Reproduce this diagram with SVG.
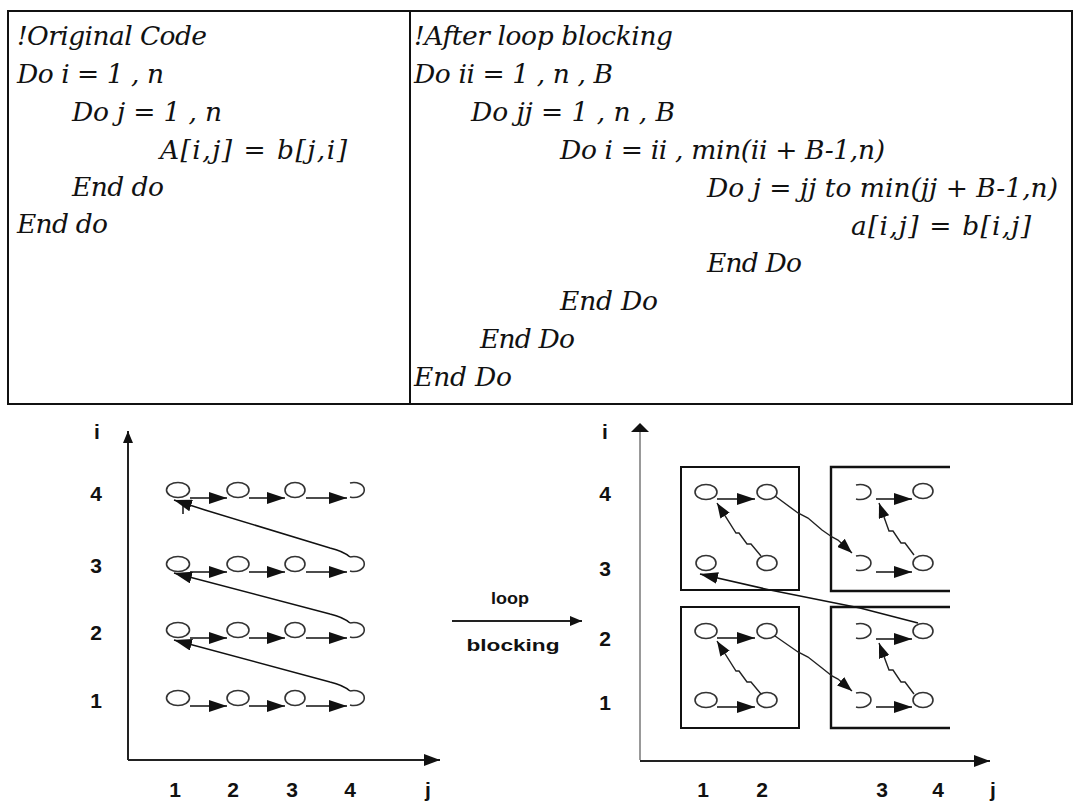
<svg xmlns="http://www.w3.org/2000/svg" width="1075" height="802" viewBox="0 0 1075 802">
  <style>
    .code { font-family: "DejaVu Serif", "Liberation Serif", serif; font-style: italic; font-size: 26.5px; fill: #111; }
    .lbl { font-family: "Liberation Sans", Arial, sans-serif; font-weight: bold; font-size: 21px; fill: #111; text-anchor: middle; }
    .cap { font-family: "Liberation Sans", Arial, sans-serif; font-weight: bold; font-size: 17px; fill: #111; text-anchor: middle; }
    .frame { fill: none; stroke: #111; stroke-width: 2; }
    .node ellipse, .node path { fill: #fff; stroke: #333; stroke-width: 1.6; }
    .node path { fill: none; }
    .axis { fill: none; stroke: #222; stroke-width: 2; }
    .axis-thin { fill: none; stroke: #555; stroke-width: 1.2; }
    .edge { fill: none; stroke: #111; stroke-width: 1.5; }
    .step { marker-end: url(#head); }
    .wave { fill: none; stroke: #222; stroke-width: 1.4; marker-end: url(#headS); }
    .block { fill: none; stroke: #111; stroke-width: 2; }
  </style>
  <defs>
    <marker id="head" markerUnits="userSpaceOnUse" markerWidth="18" markerHeight="12" refX="18" refY="6" orient="auto">
      <path d="M0,0 L18,6 L0,12 z" fill="#111"/>
    </marker>
    <marker id="headS" markerUnits="userSpaceOnUse" markerWidth="15" markerHeight="11" refX="15" refY="5.5" orient="auto">
      <path d="M0,0 L15,5.5 L0,11 z" fill="#111"/>
    </marker>
    <marker id="axisHead" markerUnits="userSpaceOnUse" markerWidth="16" markerHeight="12" refX="16" refY="6" orient="auto">
      <path d="M0,0 L16,6 L0,12 z" fill="#111"/>
    </marker>
    <marker id="axisHeadSmall" markerUnits="userSpaceOnUse" markerWidth="12" markerHeight="10" refX="12" refY="5" orient="auto">
      <path d="M0,0 L12,5 L0,10 z" fill="#111"/>
    </marker>
  </defs>

  <!-- code table -->
  <g id="code-table">
    <rect class="frame" x="8" y="11" width="1064" height="393"/>
    <line class="frame" x1="410" y1="11" x2="410" y2="404"/>
  </g>

  <g id="code-original">
    <text class="code" x="17" y="45" textLength="190">!Original Code</text>
    <text class="code" x="17" y="83" textLength="147">Do i = 1 , n</text>
    <text class="code" x="72" y="121" textLength="150">Do j = 1 , n</text>
    <text class="code" x="160" y="159" textLength="187">A[i,j] = b[j,i]</text>
    <text class="code" x="72" y="196" textLength="92">End do</text>
    <text class="code" x="17" y="233" textLength="91">End do</text>
  </g>

  <g id="code-blocked">
    <text class="code" x="414" y="45" textLength="259">!After loop blocking</text>
    <text class="code" x="414" y="83" textLength="199">Do ii = 1 , n , B</text>
    <text class="code" x="471" y="121" textLength="204">Do jj = 1 , n , B</text>
    <text class="code" x="560" y="159" textLength="325">Do i = ii , min(ii + B-1,n)</text>
    <text class="code" x="707" y="197" textLength="351">Do j = jj to min(jj + B-1,n)</text>
    <text class="code" x="851" y="235" textLength="180">a[i,j] = b[i,j]</text>
    <text class="code" x="707" y="272" textLength="95">End Do</text>
    <text class="code" x="560" y="310" textLength="98">End Do</text>
    <text class="code" x="480" y="348" textLength="95">End Do</text>
    <text class="code" x="414" y="386" textLength="98">End Do</text>
  </g>

  <!-- original iteration order: axes and labels -->
  <g id="orig-axes">
    <path class="axis" d="M128,760 V431" marker-end="url(#axisHeadSmall)"/>
    <path class="axis" d="M128,760 H440" marker-end="url(#axisHead)"/>
    <text class="lbl" x="97" y="439">i</text>
    <text class="lbl" x="96" y="501">4</text>
    <text class="lbl" x="96" y="573">3</text>
    <text class="lbl" x="96" y="640">2</text>
    <text class="lbl" x="96" y="708">1</text>
    <text class="lbl" x="175" y="797">1</text>
    <text class="lbl" x="233" y="797">2</text>
    <text class="lbl" x="292" y="797">3</text>
    <text class="lbl" x="350" y="797">4</text>
    <text class="lbl" x="428" y="797">j</text>
  </g>

  <!-- original iteration order: points -->
  <g id="o-r4c1" class="node"><ellipse cx="178" cy="490" rx="11.5" ry="7.5"/></g>
  <g id="o-r4c2" class="node"><ellipse cx="238" cy="490" rx="11" ry="7.5"/></g>
  <g id="o-r4c3" class="node"><ellipse cx="295" cy="490" rx="10" ry="7.5"/></g>
  <g id="o-r4c4" class="node"><path d="M350,483 A10.5,7.5 0 1 1 350,497"/></g>
  <g id="o-r3c1" class="node"><ellipse cx="178" cy="564" rx="11.5" ry="7.5"/></g>
  <g id="o-r3c2" class="node"><ellipse cx="238" cy="564" rx="11" ry="7.5"/></g>
  <g id="o-r3c3" class="node"><ellipse cx="295" cy="564" rx="10" ry="7.5"/></g>
  <g id="o-r3c4" class="node"><path d="M350,557 A10.5,7.5 0 1 1 350,571"/></g>
  <g id="o-r2c1" class="node"><ellipse cx="178" cy="630" rx="11.5" ry="7.5"/></g>
  <g id="o-r2c2" class="node"><ellipse cx="238" cy="630" rx="11" ry="7.5"/></g>
  <g id="o-r2c3" class="node"><ellipse cx="295" cy="630" rx="10" ry="7.5"/></g>
  <g id="o-r2c4" class="node"><path d="M350,623 A10.5,7.5 0 1 1 350,637"/></g>
  <g id="o-r1c1" class="node"><ellipse cx="178" cy="698" rx="11.5" ry="7.5"/></g>
  <g id="o-r1c2" class="node"><ellipse cx="238" cy="698" rx="11" ry="7.5"/></g>
  <g id="o-r1c3" class="node"><ellipse cx="295" cy="698" rx="10" ry="7.5"/></g>
  <g id="o-r1c4" class="node"><path d="M350,691 A10.5,7.5 0 1 1 350,705"/></g>

  <!-- transformation arrow -->
  <g id="loop-blocking">
    <path class="axis" d="M452,621 H582" marker-end="url(#axisHeadSmall)"/>
    <text class="cap" x="510" y="604" textLength="38" lengthAdjust="spacingAndGlyphs">loop</text>
    <text class="cap" x="513" y="651" textLength="93" lengthAdjust="spacingAndGlyphs">blocking</text>
  </g>

  <!-- blocked iteration order: axes, labels, tiles -->
  <g id="blocked-axes">
    <path class="axis-thin" d="M640,760 V432"/>
    <path d="M631,432 L640,423 L649,432 z" fill="#111"/>
    <path class="axis" d="M640,761 H990" marker-end="url(#axisHead)"/>
    <text class="lbl" x="605" y="439">i</text>
    <text class="lbl" x="605" y="501">4</text>
    <text class="lbl" x="605" y="576">3</text>
    <text class="lbl" x="605" y="646">2</text>
    <text class="lbl" x="605" y="710">1</text>
    <text class="lbl" x="703" y="797">1</text>
    <text class="lbl" x="762" y="797">2</text>
    <text class="lbl" x="882" y="797">3</text>
    <text class="lbl" x="938" y="797">4</text>
    <text class="lbl" x="993" y="797">j</text>
  </g>

  <g id="tile-tl"><rect class="block" x="681" y="467" width="118" height="123"/></g>
  <g id="tile-tr"><path class="block" d="M950,467 H831 V591 H950" style="stroke-width:2.4"/></g>
  <g id="tile-bl"><rect class="block" x="681" y="607" width="118" height="121"/></g>
  <g id="tile-br"><path class="block" d="M950,607 H831 V728 H950" style="stroke-width:2.4"/></g>

  <!-- blocked iteration order: points -->
  <g id="b-tl-a" class="node"><ellipse cx="706" cy="492" rx="11" ry="7.5"/></g>
  <g id="b-tl-b" class="node"><ellipse cx="767" cy="492" rx="10" ry="7.5"/></g>
  <g id="b-tl-c" class="node"><ellipse cx="706" cy="563" rx="10" ry="7.5"/></g>
  <g id="b-tl-d" class="node"><ellipse cx="767" cy="563" rx="10" ry="7.5"/></g>
  <g id="b-tr-a" class="node"><path d="M856,485 A11,7.5 0 1 1 856,499"/></g>
  <g id="b-tr-b" class="node"><ellipse cx="923" cy="491" rx="10" ry="7.5"/></g>
  <g id="b-tr-c" class="node"><path d="M856,556 A11,7.5 0 1 1 856,570"/></g>
  <g id="b-tr-d" class="node"><ellipse cx="923" cy="563" rx="10" ry="7.5"/></g>
  <g id="b-bl-a" class="node"><ellipse cx="706" cy="631" rx="11" ry="7.5"/></g>
  <g id="b-bl-b" class="node"><ellipse cx="767" cy="631" rx="10" ry="7.5"/></g>
  <g id="b-bl-c" class="node"><ellipse cx="706" cy="700" rx="11" ry="7.5"/></g>
  <g id="b-bl-d" class="node"><ellipse cx="767" cy="700" rx="10" ry="7.5"/></g>
  <g id="b-br-a" class="node"><path d="M856,624 A11,7.5 0 1 1 856,638"/></g>
  <g id="b-br-b" class="node"><ellipse cx="923" cy="631" rx="10" ry="7.5"/></g>
  <g id="b-br-c" class="node"><path d="M856,693 A11,7.5 0 1 1 856,707"/></g>
  <g id="b-br-d" class="node"><ellipse cx="923" cy="700" rx="10" ry="7.5"/></g>

  <!-- traversal edges -->
  <g id="connectors">
    <!-- original order: along each row -->
    <path class="edge step" d="M190,498 H227"/>
    <path class="edge step" d="M249,498 H285"/>
    <path class="edge step" d="M306,498 H347"/>
    <path class="edge step" d="M190,572 H227"/>
    <path class="edge step" d="M249,572 H285"/>
    <path class="edge step" d="M306,572 H347"/>
    <path class="edge step" d="M190,638 H227"/>
    <path class="edge step" d="M249,638 H285"/>
    <path class="edge step" d="M306,638 H347"/>
    <path class="edge step" d="M190,706 H227"/>
    <path class="edge step" d="M249,706 H285"/>
    <path class="edge step" d="M306,706 H347"/>
    <!-- original order: back to the start of the next row -->
    <path class="edge step" d="M350,557 Q343,551 330,548 L205,510 L174,500"/>
    <path class="edge step" d="M350,623 Q343,617 330,614 L174,573"/>
    <path class="edge step" d="M350,691 Q343,685 330,682 L174,640"/>
    <line class="edge" x1="183" y1="505" x2="183" y2="514"/>

    <!-- blocked order: within tiles -->
    <path class="edge step" d="M717,499 H755"/>
    <path class="edge step" d="M717,638 H755"/>
    <path class="edge step" d="M717,707 H755"/>
    <path class="edge step" d="M876,499 H912"/>
    <path class="edge step" d="M876,572 H912"/>
    <path class="edge step" d="M876,639 H912"/>
    <path class="edge step" d="M876,707 H912"/>
    <path class="wave" d="M761,556 L751,544 L747,544 L739,533 L736,533 L717,503"/>
    <path class="wave" d="M761,694 L751,682 L747,682 L739,671 L736,671 L717,641"/>
    <path class="wave" d="M914,555 L905,543 L901,543 L893,531 L889,531 L879,503"/>
    <path class="wave" d="M914,694 L905,682 L901,682 L893,670 L889,670 L879,643"/>
    <!-- blocked order: between tiles -->
    <path class="wave" d="M775,496 L798,513 L808,518 L822,530 L832,537 L838,540 L852,553"/>
    <path class="wave" d="M775,636 L798,652 L808,657 L822,668 L832,676 L838,679 L852,691"/>
    <path class="edge step" d="M918,623 L860,608 L770,590 L700,574"/>
  </g>
</svg>
